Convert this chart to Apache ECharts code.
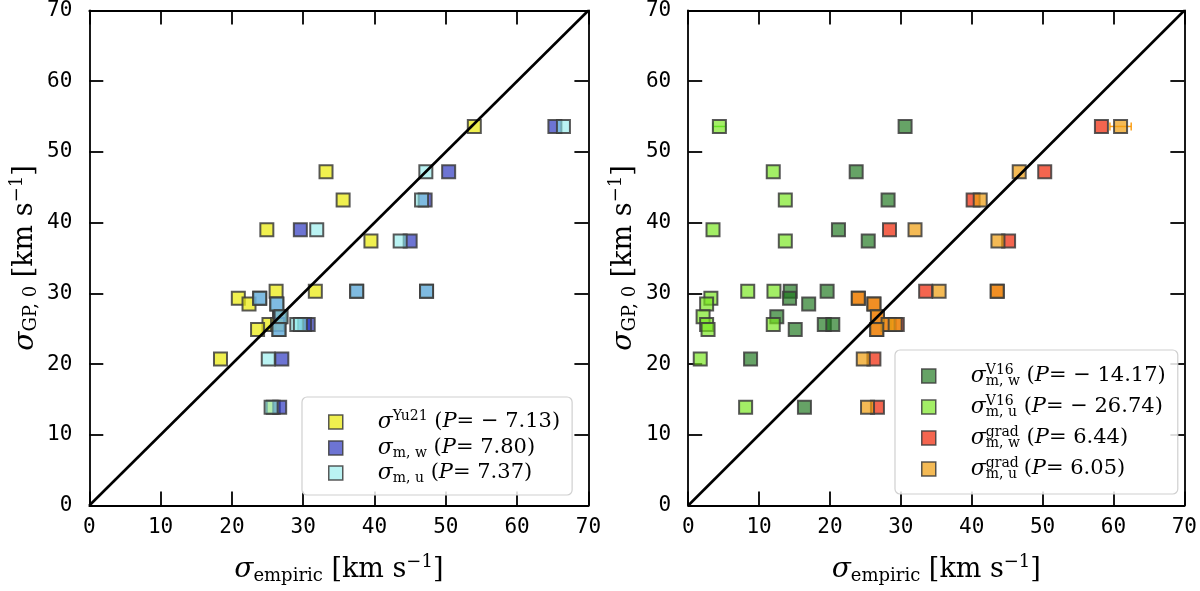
<!DOCTYPE html>
<html><head><meta charset="utf-8">
<script src="https://cdn.jsdelivr.net/npm/echarts@6/dist/echarts.min.js"></script>
<style>html,body{margin:0;padding:0;background:#fff}#c{width:1200px;height:591px}</style>
</head><body><div id="c"></div>
<script>
// ---- data (km/s) ----
const tickValues = [0, 10, 20, 30, 40, 50, 60, 70];
const oneToOne = [0, 70];
// sigma_GP,0 for each galaxy (y values, shared by both panels)
const gpY   = [53.6, 47.2, 43.2, 39.0, 37.4, 30.3, 30.3, 29.3, 28.5, 26.7, 25.6, 25.6, 24.9, 20.7, 13.9];
// left panel x values
const yu21  = [54.0, 33.2, 35.6, 24.9, 39.5, 26.2, 31.7, 20.9, 22.4, 26.7, 25.2, 26.4, 23.6, 18.4, 25.8];
const mW    = [65.3, 50.4, 47.1, 29.6, 45.0, 37.5, 47.3, 23.9, 26.3, 26.7, 30.7, 30.2, 26.6, 27.0, 26.7];
const mU    = [66.5, 47.2, 46.6, 31.9, 43.6, 37.5, 47.3, 23.9, 26.3, 26.9, 29.1, 29.6, 26.6, 25.1, 25.5];
// right panel x values
const v16W  = [30.6, 23.7, 28.2, 21.2, 25.4, 14.4, 19.6, 14.3, 17.0, 12.5, 19.2, 20.4, 15.1, 8.8, 16.4];
const v16U  = [4.4, 12.0, 13.7, 3.5, 13.7, 8.4, 12.1, 3.2, 2.6, 2.1, 12.0, 2.6, 2.8, 1.7, 8.1];
const gradW = [58.3, 50.3, 40.2, 28.4, 45.2, 33.5, 43.6, 24.0, 26.2, 26.7, 28.4, 29.5, 26.6, 26.2, 26.7];
const gradU = [61.0, 46.7, 41.2, 32.0, 43.7, 35.4, 43.6, 24.0, 26.2, 26.7, 28.2, 29.2, 26.6, 24.7, 25.3];
// visible horizontal error bars (half widths)
const errV16U  = [0.9, 0, 0, 0, 0, 0, 0, 0, 0, 0, 0, 0, 0, 0, 0];
const errGradU = [1.5, 0, 0, 0, 0, 0, 0, 0, 0, 0, 0, 0, 0, 0, 0];
// legend P values
const pVals = {Yu21: '− 7.13', mw: '7.80', mu: '7.37', V16w: '− 14.17', V16u: '− 26.74', gradw: '6.44', gradu: '6.05'};

const SERIF = 'DejaVu Serif';
const MONO = 'DejaVu Sans Mono';

function makeRich(LH, base, scr) {
  return {
    s:   {fontFamily: SERIF, fontStyle: 'italic', fontSize: base + 1, lineHeight: LH, color: '#000'},
    sup: {fontFamily: SERIF, fontSize: scr, padding: [0, 0, Math.round(scr * 0.85), 0], lineHeight: LH, color: '#000'},
    supw:{fontFamily: SERIF, fontSize: scr, padding: [0, 0, Math.round(scr * 0.85), 0], lineHeight: LH, color: '#000', width: 0.01, align: 'left'},
    sub: {fontFamily: SERIF, fontSize: scr, padding: [Math.round(scr * 0.7), 0, 0, 0], lineHeight: LH, color: '#000'},
    t:   {fontFamily: SERIF, fontSize: base, lineHeight: LH, color: '#000'},
    p:   {fontFamily: SERIF, fontStyle: 'italic', fontSize: base, lineHeight: LH, color: '#000'}
  };
}
const legendText = {
  Yu21:  '{s|σ}{sup|Yu21}{t| (}{p|P}{t|= ' + pVals.Yu21 + ')}',
  mw:    '{s|σ}{sub|m, w}{t| (}{p|P}{t|= ' + pVals.mw + ')}',
  mu:    '{s|σ}{sub|m, u}{t| (}{p|P}{t|= ' + pVals.mu + ')}',
  V16w:  '{s|σ}{supw|V16}{sub|m, w}{t| (}{p|P}{t|= ' + pVals.V16w + ')}',
  V16u:  '{s|σ}{supw|V16}{sub|m, u}{t| (}{p|P}{t|= ' + pVals.V16u + ')}',
  gradw: '{s|σ}{supw|grad}{sub|m, w}{t| (}{p|P}{t|= ' + pVals.gradw + ')}',
  gradu: '{s|σ}{supw|grad}{sub|m, u}{t| (}{p|P}{t|= ' + pVals.gradu + ')}'
};

const colors = {
  Yu21: 'rgba(235,235,20,0.75)',
  mw: 'rgba(40,50,190,0.68)',
  mu: 'rgba(140,235,235,0.6)',
  V16w: 'rgba(30,120,30,0.68)',
  V16u: 'rgba(120,230,30,0.68)',
  gradw: 'rgba(240,50,20,0.75)',
  gradu: 'rgba(240,160,20,0.72)'
};

const grids = [
  {left: 89.3, right: 611.6, top: 8.3, bottom: 83.6},
  {left: 688.2, right: 13.2, top: 8.3, bottom: 83.6}
];

const axisNameRich = makeRich(34, 27, 18);
const xAxes = [], yAxes = [];
grids.forEach((g, gi) => {
  const common = {
    gridIndex: gi, type: 'value', min: tickValues[0], max: tickValues[tickValues.length - 1], interval: 10,
    splitLine: {show: false},
    axisLine: {show: true, onZero: false, lineStyle: {color: '#000', width: 1.8}},
    axisTick: {show: true, inside: true, length: 14, lineStyle: {color: '#000', width: 1.8}}
  };
  xAxes.push(Object.assign({}, common, {
    position: 'bottom',
    axisLabel: {fontFamily: MONO, fontSize: 21, color: '#000', margin: 12, showMinLabel: true, showMaxLabel: true},
    name: '{s|σ}{sub|empiric}{t| [km s}{sup|−1}{t|]}',
    nameLocation: 'middle', nameGap: 47,
    nameTextStyle: {rich: axisNameRich}
  }));
  xAxes.push(Object.assign({}, common, {position: 'top', axisLabel: {show: false}}));
  yAxes.push(Object.assign({}, common, {
    position: 'left',
    axisLabel: {fontFamily: MONO, fontSize: 21, color: '#000', margin: 17, showMinLabel: true, showMaxLabel: true},
    name: '{s|σ}{sub|GP, 0}{t| [km s}{sup|−1}{t|]}',
    nameLocation: 'middle', nameGap: 47, nameRotate: 90,
    nameTextStyle: {rich: axisNameRich}
  }));
  yAxes.push(Object.assign({}, common, {position: 'right', axisLabel: {show: false}}));
});

function scatter(name, xs, gi) {
  return {
    name, type: 'scatter', xAxisIndex: gi * 2, yAxisIndex: gi * 2,
    symbol: 'rect', symbolSize: 13,
    data: xs.map((x, i) => [x, gpY[i]]),
    itemStyle: {color: colors[name], borderColor: 'rgba(60,60,60,0.85)', borderWidth: 2, opacity: 1},
    emphasis: {disabled: true}, z: 3
  };
}
function errBars(name, xs, errs, gi, col) {
  return {
    type: 'custom', xAxisIndex: gi * 2, yAxisIndex: gi * 2, z: 2,
    data: xs.map((x, i) => [x, gpY[i], errs[i]]).filter(d => d[2] > 0),
    renderItem: (params, api) => {
      const x = api.value(0), y = api.value(1), e = api.value(2);
      const a = api.coord([x - e, y]), b = api.coord([x + e, y]);
      const st = {stroke: col, lineWidth: 1.5};
      return {type: 'group', children: [
        {type: 'line', shape: {x1: a[0], y1: a[1], x2: b[0], y2: b[1]}, style: st},
        {type: 'line', shape: {x1: a[0], y1: a[1] - 4, x2: a[0], y2: a[1] + 4}, style: st},
        {type: 'line', shape: {x1: b[0], y1: b[1] - 4, x2: b[0], y2: b[1] + 4}, style: st}
      ]};
    }
  };
}
function diag(gi) {
  return {
    type: 'line', xAxisIndex: gi * 2, yAxisIndex: gi * 2, data: oneToOne.map(v => [v, v]),
    symbol: 'none', lineStyle: {color: '#000', width: 2.6}, z: 5, silent: true
  };
}

const series = [
  scatter('Yu21', yu21, 0), scatter('mw', mW, 0), scatter('mu', mU, 0), diag(0),
  errBars('V16u', v16U, errV16U, 1, 'rgba(40,220,20,0.9)'),
  errBars('gradu', gradU, errGradU, 1, 'rgba(250,150,0,0.9)'),
  scatter('V16w', v16W, 1), scatter('V16u', v16U, 1), scatter('gradw', gradW, 1), scatter('gradu', gradU, 1), diag(1)
];

function legend(names, left, top, LH, gap, padding) {
  return {
    data: names, orient: 'vertical', left, top, itemGap: gap,
    itemWidth: 14, itemHeight: 14, icon: 'rect',
    itemStyle: {borderColor: 'rgba(60,60,60,0.85)', borderWidth: 1.5},
    formatter: n => legendText[n],
    textStyle: {rich: makeRich(LH, 21, 14), padding: [0, 0, 0, 30]},
    backgroundColor: 'rgba(255,255,255,0.85)', borderColor: '#d0d0d0', borderWidth: 1.2, borderRadius: 5,
    padding: padding, selectedMode: false
  };
}

const chart = echarts.init(document.getElementById('c'), null, {renderer: 'canvas'});
chart.setOption({
  animation: false,
  grid: grids,
  xAxis: xAxes, yAxis: yAxes,
  series,
  legend: [
    legend(['Yu21', 'mw', 'mu'], 302, 397, 25, 1, [12, 12, 10, 26]),
    legend(['V16w', 'V16u', 'gradw', 'gradu'], 895, 350, 31, 5, [13, 12, 12, 26])
  ]
});
</script></body></html>
